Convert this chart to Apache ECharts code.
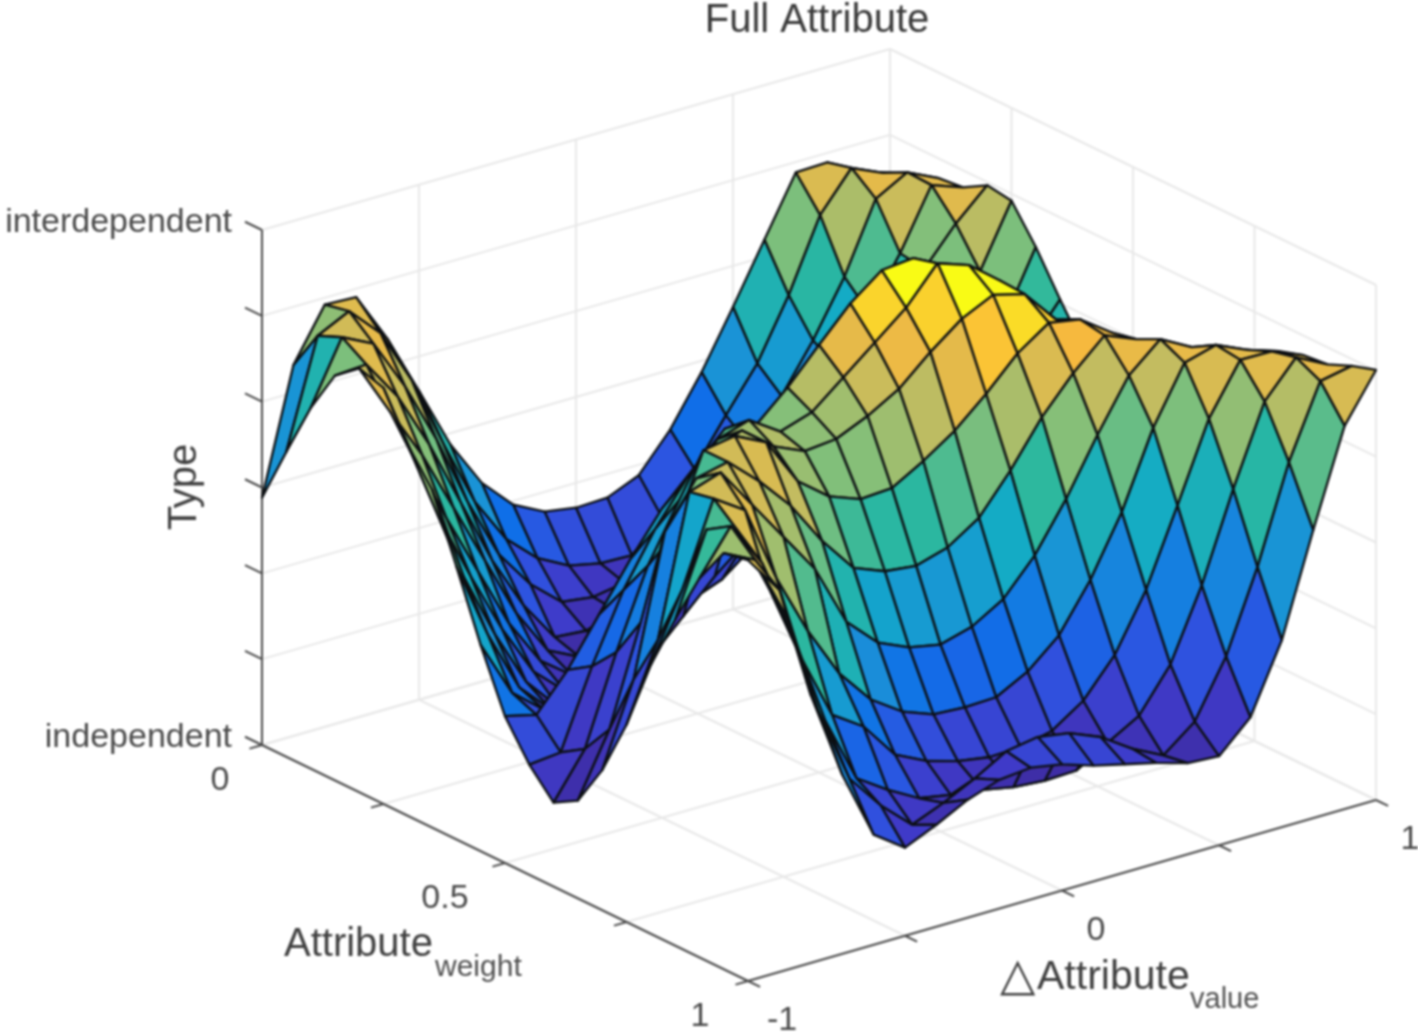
<!DOCTYPE html>
<html>
<head>
<meta charset="utf-8">
<title>Full Attribute</title>
<script src="https://cdn.jsdelivr.net/npm/echarts@6/dist/echarts.min.js"></script>
<style>
  html, body { margin: 0; padding: 0; background: #fff; }
  #chart { width: 1418px; height: 1035px; filter: blur(0.9px); }
</style>
</head>
<body>
<div id="chart"></div>
<script>
// tick values of the three axes
const xTicks = [-1, -0.5, 0, 0.5, 1]
const yTicks = [0, 0.25, 0.5, 0.75, 1]
const zTicks = [0, 0.1667, 0.3333, 0.5, 0.6667, 0.8333, 1]

const xTickLabels = ['-1', '', '0', '', '1']
const yTickLabels = ['0', '', '0.5', '', '1']
const zTickLabels = ['independent', '', '', '', '', '', 'interdependent']

// surface heights, one list per weight step, x runs -1 .. 1
const zWeight00 = [.48, .72, .82, .817, .718, .60, .478, .386, .326, .295, .285, .287, .313, .384, .478, .587, .70, .813, .815, .78, .76]
const zWeight01 = [.592, .80, .83, .77, .66, .52, .39, .30, .245, .213, .20, .198, .25, .33, .417, .50, .615, .753, .827, .80, .78]
const zWeight02 = [.70, .82, .79, .69, .57, .43, .31, .235, .183, .175, .185, .20, .24, .31, .38, .46, .55, .656, .79, .824, .795]
const zWeight03 = [.786, .79, .71, .60, .47, .34, .235, .155, .15, .17, .19, .21, .25, .30, .35, .43, .52, .61, .707, .822, .80]
const zWeight04 = [.823, .72, .62, .50, .38, .26, .17, .14, .15, .18, .21, .24, .27, .31, .36, .43, .51, .60, .70, .77, .827]
const zWeight05 = [.808, .65, .52, .40, .28, .19, .145, .15, .17, .21, .25, .28, .31, .35, .39, .45, .52, .59, .66, .70, .82]
const zWeight06 = [.72, .56, .43, .31, .21, .155, .15, .17, .21, .26, .283, .33, .37, .41, .45, .50, .55, .59, .62, .63, .753]
const zWeight07 = [.656, .47, .34, .23, .165, .15, .17, .21, .27, .33, .38, .44, .49, .53, .57, .59, .60, .60, .60, .60, .674]
const zWeight08 = [.53, .38, .26, .20, .22, .28, .36, .43, .47, .52, .58, .62, .66, .70, .72, .72, .70, .67, .64, .60, .60]
const zWeight09 = [.40, .29, .24, .30, .39, .47, .54, .58, .60, .65, .70, .78, .84, .87, .87, .84, .80, .74, .68, .62, .58]
const zWeight10 = [.285, .27, .34, .43, .52, .60, .66, .72, .71, .765, .83, .893, .94, .946, .915, .87, .81, .75, .71, .66, .62]
const zWeight11 = [.214, .22, .37, .50, .60, .68, .74, .76, .72, .74, .79, .84, .89, .959, .938, .89, .80, .76, .72, .68, .65]
const zWeight12 = [.163, .25, .42, .57, .68, .76, .78, .732, .705, .711, .738, .773, .827, .874, .903, .887, .82, .78, .74, .71, .68]
const zWeight13 = [.19, .31, .50, .65, .80, .81, .78, .687, .64, .617, .621, .656, .697, .751, .812, .854, .843, .80, .76, .73, .70]
const zWeight14 = [.272, .43, .70, .786, .80, .745, .68, .594, .524, .50, .493, .511, .551, .625, .711, .779, .835, .81, .785, .75, .72]
const zWeight15 = [.383, .53, .80, .82, .74, .66, .58, .46, .402, .375, .363, .38, .416, .483, .575, .682, .78, .833, .80, .77, .735]
const zWeight16 = [.522, .65, .81, .77, .62, .50, .40, .332, .291, .268, .264, .266, .298, .351, .441, .555, .701, .81, .827, .80, .78]
const zWeight17 = [.633, .79, .77, .64, .49, .36, .32, .248, .218, .20, .19, .192, .206, .247, .318, .427, .573, .724, .821, .82, .795]
const zWeight18 = [.736, .82, .73, .57, .39, .26, .22, .186, .175, .167, .155, .15, .152, .188, .223, .305, .441, .61, .763, .831, .80]
const zWeight19 = [.808, .777, .65, .45, .30, .23, .175, .20, .23, .265, .275, .265, .24, .20, .169, .217, .326, .482, .668, .808, .82]
const zWeight20 = [.817, .742, .52, .348, .214, .171, .198, .229, .25, .256, .245, .225, .21, .195, .177, .173, .231, .363, .559, .744, .835]

const surfaceRows = [
  zWeight00, zWeight01, zWeight02, zWeight03, zWeight04, zWeight05, zWeight06,
  zWeight07, zWeight08, zWeight09, zWeight10, zWeight11, zWeight12, zWeight13,
  zWeight14, zWeight15, zWeight16, zWeight17, zWeight18, zWeight19, zWeight20,
]

// parula, evenly spaced
const parula = ['#3e2da5', '#3f3ac8', '#2e53e0', '#0f6fe8', '#1b8fd8', '#12aac8', '#2cb89e', '#7fbf7b', '#c5bc5f', '#fbb93b', '#f9fb15']
const colorMin = 0.15
const colorMax = 0.94

// MATLAB-style view of the box, turned into plane coordinates for the hidden axes
const project = (x, y, z) => {
  const u = (x + 1) / 2
  return [262 + 628 * u + 486 * y, 745 - 181 * u + 236 * y - 515 * z]
}

const colorOf = (z) => {
  const t = Math.min(1, Math.max(0, (z - colorMin) / (colorMax - colorMin)))
  return echarts.color.lerp(t, parula)
}

const xOf = (i) => -1 + i * 0.1
const yOf = (j) => j * 0.05

// far cells first so that nearer ones paint over them
const cellList = []
for (let i = 19; i >= 0; i--) {
  for (let j = 0; j < 20; j++) {
    cellList.push([i, j])
  }
}

// light grid on the two back walls and the floor
const gridSegments = []
zTicks.forEach((z) => {
  gridSegments.push([-1, 0, z, 1, 0, z])
  gridSegments.push([1, 0, z, 1, 1, z])
})
xTicks.forEach((x) => {
  gridSegments.push([x, 0, 0, x, 0, 1])
  gridSegments.push([x, 0, 0, x, 1, 0])
})
yTicks.forEach((y) => {
  gridSegments.push([1, y, 0, 1, y, 1])
  gridSegments.push([-1, y, 0, 1, y, 0])
})

// dark axis lines and their ticks
const axisSegments = [
  [-1, 0, 0, -1, 0, 1],
  [-1, 0, 0, -1, 1, 0],
  [-1, 1, 0, 1, 1, 0],
]
zTicks.forEach((z) => axisSegments.push([-1, 0, z, -1, -0.035, z]))
yTicks.forEach((y) => axisSegments.push([-1, y, 0, -1.04, y, 0]))
xTicks.forEach((x) => axisSegments.push([x, 1, 0, x, 1.025, 0]))

const yLabelShift = [-42, 0, -60, 0, -48]

const tickLabelData = []
xTicks.forEach((x, k) => tickLabelData.push([x, 1, 0, xTickLabels[k], 34, 40, 'center']))
yTicks.forEach((y, k) => tickLabelData.push([-1, y, 0, yTickLabels[k], yLabelShift[k], 36, 'center']))
zTicks.forEach((z, k) => tickLabelData.push([-1, 0, z, zTickLabels[k], -30, -7, 'right']))

const segmentSeries = (data, stroke, width) => ({
  type: 'custom',
  silent: true,
  clip: false,
  data,
  renderItem: (params, api) => {
    const a = project(api.value(0), api.value(1), api.value(2))
    const b = project(api.value(3), api.value(4), api.value(5))
    const p1 = api.coord(a)
    const p2 = api.coord(b)
    return {
      type: 'line',
      shape: { x1: p1[0], y1: p1[1], x2: p2[0], y2: p2[1] },
      style: { stroke, lineWidth: width },
    }
  },
})

const chart = echarts.init(document.getElementById('chart'), null, { renderer: 'canvas' })

chart.setOption({
  animation: false,
  backgroundColor: '#fff',
  title: {
    text: 'Full Attribute',
    left: 812,
    top: -4,
    textAlign: 'center',
    textStyle: { fontFamily: 'Liberation Sans', fontSize: 40, fontWeight: 'normal', color: '#3a3a3a' },
  },
  grid: { left: 0, right: 0, top: 0, bottom: 0 },
  xAxis: { type: 'value', min: 0, max: 1418, show: false },
  yAxis: { type: 'value', min: 0, max: 1035, inverse: true, show: false },
  graphic: [
    { type: 'text', x: 185, y: 487, rotation: Math.PI / 2, style: { text: 'Type', fontFamily: 'Liberation Sans', fontSize: 40, fill: '#404040', align: 'center', verticalAlign: 'middle' } },
    { type: 'text', x: 284, y: 945, style: { text: 'Attribute', fontFamily: 'Liberation Sans', fontSize: 40, fill: '#404040', align: 'left', verticalAlign: 'middle' } },
    { type: 'text', x: 435, y: 968, style: { text: 'weight', fontFamily: 'Liberation Sans', fontSize: 30, fill: '#505050', align: 'left', verticalAlign: 'middle' } },
    { type: 'text', x: 1000, y: 978, style: { text: '△', fontFamily: 'DejaVu Sans', fontSize: 46, fill: '#404040', align: 'left', verticalAlign: 'middle' } },
    { type: 'text', x: 1037, y: 978, style: { text: 'Attribute', fontFamily: 'Liberation Sans', fontSize: 41, fill: '#404040', align: 'left', verticalAlign: 'middle' } },
    { type: 'text', x: 1190, y: 1000, style: { text: 'value', fontFamily: 'Liberation Sans', fontSize: 29, fill: '#505050', align: 'left', verticalAlign: 'middle' } },
  ],
  series: [
    segmentSeries(gridSegments, '#e8e8e8', 2),
    segmentSeries(axisSegments, '#4a4a4a', 2),
    {
      type: 'custom',
      silent: true,
      clip: false,
      data: cellList,
      renderItem: (params, api) => {
        const i = api.value(0)
        const j = api.value(1)
        const corners = [[i, j], [i + 1, j], [i + 1, j + 1], [i, j + 1]]
        const points = corners.map(([ci, cj]) =>
          api.coord(project(xOf(ci), yOf(cj), surfaceRows[cj][ci])),
        )
        return {
          type: 'polygon',
          shape: { points },
          style: { fill: colorOf(surfaceRows[j][i]), stroke: '#0c0f12', lineWidth: 2.3, lineJoin: 'round' },
        }
      },
    },
    {
      type: 'custom',
      silent: true,
      clip: false,
      data: tickLabelData,
      renderItem: (params, api) => {
        const item = tickLabelData[params.dataIndex]
        const p = api.coord(project(item[0], item[1], item[2]))
        return {
          type: 'text',
          x: p[0] + item[4],
          y: p[1] + item[5],
          style: {
            text: item[3],
            fontFamily: 'Liberation Sans',
            fontSize: 34,
            fill: '#4a4a4a',
            align: item[6],
            verticalAlign: 'middle',
          },
        }
      },
    },
  ],
})
</script>
</body>
</html>
